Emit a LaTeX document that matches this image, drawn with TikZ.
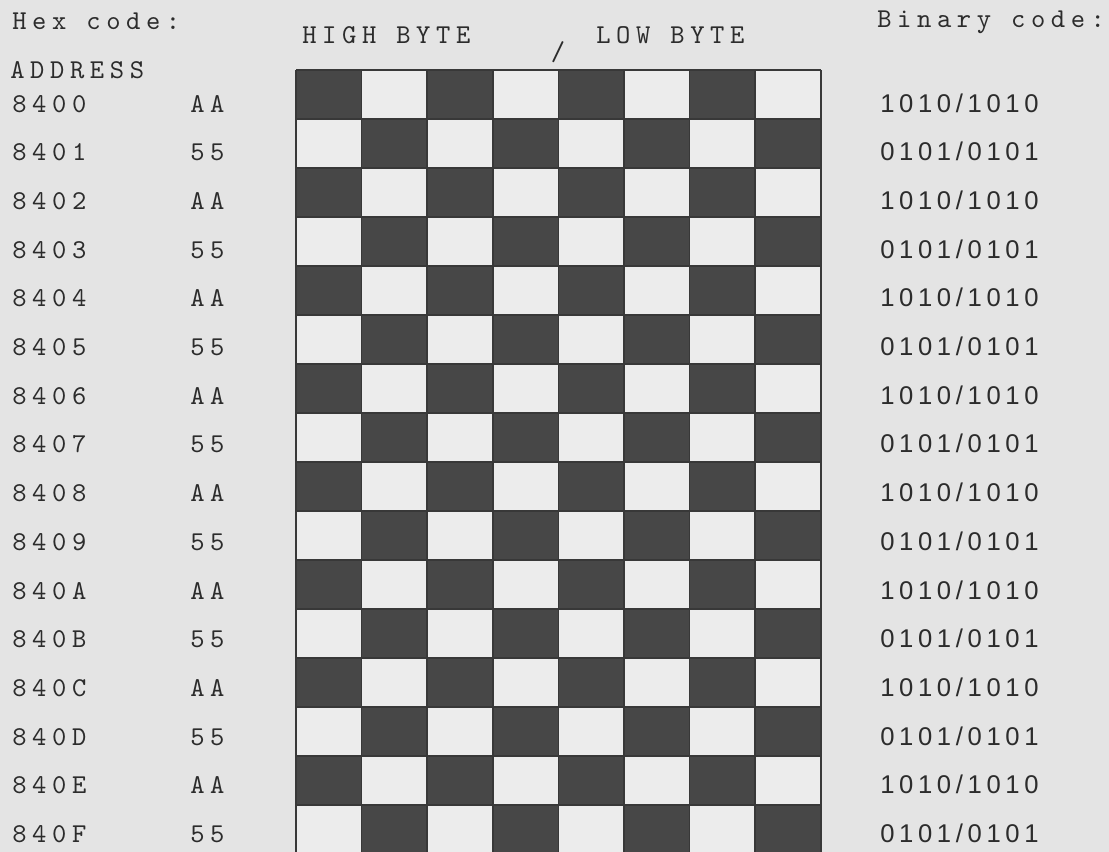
\documentclass[tikz,border=0pt]{standalone}
\usepackage{fontspec}
\newfontfamily\typefont{lmmono10-regular.otf}[LetterSpace=20.6]
\newfontfamily\bitsfont{Liberation Sans}[LetterSpace=18]

\begin{document}
\begin{tikzpicture}[x=0.02cm,y=-0.02cm,
  typed/.style={anchor=base west,inner sep=0pt,text=inkGrey,font=\typefont\fontsize{15.5}{17}\selectfont},
  bits/.style={anchor=base west,inner sep=0pt,text=inkGrey,font=\bitsfont\fontsize{14.6}{16}\selectfont}]
\definecolor{paperGrey}{HTML}{E4E4E4}
\definecolor{cellLight}{HTML}{ECECEC}
\definecolor{cellDark}{HTML}{474747}
\definecolor{gridInk}{HTML}{383838}
\definecolor{inkGrey}{HTML}{2C2C2C}
\useasboundingbox (0,0) rectangle (1109,852);
\clip (0,0) rectangle (1109,852);
\fill[paperGrey] (0,0) rectangle (1109,852);
% checker cells, bit 1 = dark
\foreach \r in {0,...,15} {
  \foreach \c in {0,...,7} {
    \pgfmathtruncatemacro{\odd}{mod(\r+\c,2)}
    \ifnum\odd=0 \def\cellcol{cellDark}\else \def\cellcol{cellLight}\fi
    \fill[\cellcol] ({296+65.6*\c},{70+49*\r}) rectangle ++(65.6,49);
  }
}
\foreach \c in {0,...,8}
  \draw[gridInk,line width=1pt] ({296+65.6*\c},70) -- ({296+65.6*\c},856);
\foreach \r in {0,...,16}
  \draw[gridInk,line width=1pt] (296,{70+49*\r}) -- (821,{70+49*\r});
% headings
\node[typed] (hexhead) at (12,30) {Hex code:};
\node[typed] (addrhead) at (10,78) {ADDRESS};
\node[typed] (highbyte) at (302,43) {HIGH BYTE};
\node[typed] (lowbyte) at (596,43) {LOW BYTE};
\node[typed,anchor=base] (split) at (558,60) {/};
\node[typed] (binhead) at (877,28) {Binary code:};
% one line per address
\foreach \addr [count=\r from 0] in {8400,8401,8402,8403,8404,8405,8406,8407,8408,8409,840A,840B,840C,840D,840E,840F} {
  \ifodd\r \def\hexval{55}\def\binval{0101/0101}\else \def\hexval{AA}\def\binval{1010/1010}\fi
  \node[typed] (addr\r) at (12,{112+48.7*\r}) {\addr};
  \node[typed] (hex\r) at (190,{112+48.7*\r}) {\hexval};
  \node[bits] (bin\r) at (880,{112+48.7*\r}) {\binval};
}
\end{tikzpicture}
\end{document}
